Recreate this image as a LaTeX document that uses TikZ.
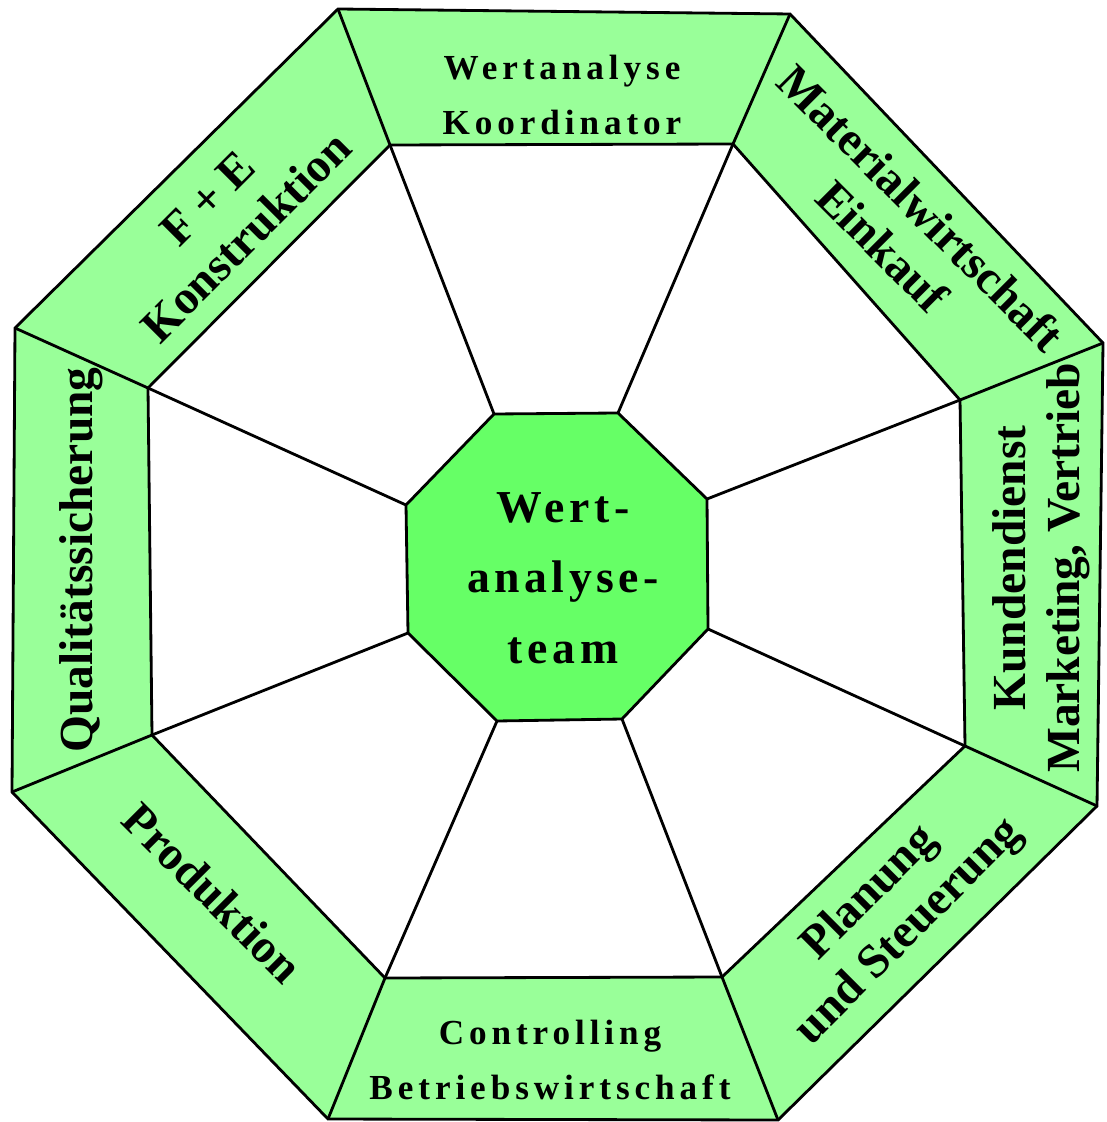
\documentclass[tikz,border=0pt]{standalone}
\usepackage{fontspec}
\setmainfont{Liberation Serif}
\definecolor{ring}{HTML}{99FF99}
\definecolor{core}{HTML}{66FF66}
\begin{document}
\begin{tikzpicture}[x=0.01cm,y=-0.01cm,line width=0.8pt,
  lab/.style={align=center,font=\bfseries\fontsize{13.5}{15.5}\selectfont},
  spaced/.style={align=center,font=\bfseries\fontsize{10}{15.6}\selectfont\addfontfeature{LetterSpace=14}},
  teamtext/.style={align=center,font=\bfseries\fontsize{13}{20}\selectfont\addfontfeature{LetterSpace=10}}]
\useasboundingbox (0,0) rectangle (1107,1122);
% corners: outer ring, inner ring, centre
\foreach \n/\x/\y in {o1/338/9,o2/790/14,o3/1103/343,o4/1097/806,o5/778/1120,o6/328/1119,o7/12/792,o8/15/328,
  i1/390/145,i2/733/144,i3/960/400,i4/965/746,i5/722/977,i6/385/978,i7/152/735,i8/148/388,
  c1/494/414,c2/618/413,c3/707/499,c4/708/629,c5/622/719,c6/497/721,c7/408/633,c8/406/505} {
  \coordinate (\n) at (\x,\y);
}
\filldraw[fill=ring] (o1) \foreach \k in {2,...,8} {-- (o\k)} -- cycle;
\filldraw[fill=white] (i1) \foreach \k in {2,...,8} {-- (i\k)} -- cycle;
\foreach \k in {1,...,8} {
  \draw (c\k) -- (i\k);
  \draw (i\k) -- (o\k);
}
\filldraw[fill=core] (c1) \foreach \k in {2,...,8} {-- (c\k)} -- cycle;
\node[teamtext] (team) at (563,578) {Wert-\\analyse-\\team};
\node[spaced] (koord) at (562,95) {Wertanalyse\\Koordinator};
\node[lab,rotate=45] (konst) at (227,218) {F + E\\Konstruktion};
\node[lab,rotate=-45] (mat) at (902,227) {Materialwirtschaft\\Einkauf};
\node[lab,rotate=90] (kunde) at (1041,568) {Kundendienst\\Marketing, Vertrieb};
\node[lab,rotate=45] (plan) at (890,913) {Planung\\und Steuerung};
\node[spaced] (contr) at (550,1060) {Controlling\\Betriebswirtschaft};
\node[lab,rotate=-45] (prod) at (213,893) {Produktion};
\node[lab,rotate=90] (qual) at (81,560) {Qualitätssicherung};
\end{tikzpicture}
\end{document}
